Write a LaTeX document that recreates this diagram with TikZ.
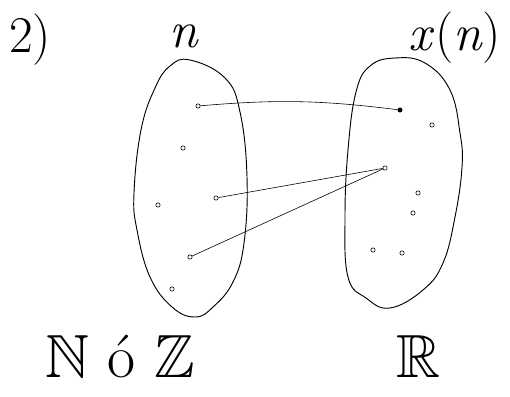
\documentclass[tikz,border=0pt]{standalone}
\usepackage{fontspec}
\usepackage{amssymb}
\usepackage{tikz}

\begin{document}
\begin{tikzpicture}[x=0.03cm, y=-0.03cm, line width=0.8pt, every node/.style={font=\fontsize{44}{48}\selectfont},
  pt/.style={circle, draw, fill=white, inner sep=0pt, minimum size=0.13cm, line width=0.5pt}]
  \useasboundingbox (0,0) rectangle (510,396);
  % labels
  \node (num) at (30,40) {2)};
  \node (lbln) at (184,36) {\itshape n};
  \node (lblx) at (455,38) {\textit{x}(\textit{n})};
  \node[font=\fontsize{52}{56}\selectfont] (dom) at (120,357) {$\mathbb{N}$ ó $\mathbb{Z}$};
  \node[font=\fontsize{52}{56}\selectfont] (cod) at (418,357) {$\mathbb{R}$};
  % sets
  \draw plot[smooth cycle, tension=0.7] coordinates {(190,60) (225,78) (240,112) (247,177) (244,243) (233,282) (213,307) (195,317) (172,307) (150,277) (137,230) (134,193) (141,130) (155,88) (170,66)};
  \draw plot[smooth cycle, tension=0.7] coordinates {(395,58) (425,63) (450,90) (460,133) (462,167) (455,217) (443,263) (423,290) (390,308) (366,298) (348,277) (345,217) (348,150) (356,92) (370,66)};
  % points
  \node[pt] (a1) at (198,106) {};
  \node[pt] (a2) at (183,148) {};
  \node[pt] (a3) at (158,205) {};
  \node[pt] (a4) at (216,198) {};
  \node[pt] (a5) at (190,257) {};
  \node[pt] (a6) at (172,289) {};
  \node[pt, fill=black] (b1) at (400,110) {};
  \node[pt] (b2) at (432,125) {};
  \node[pt] (b3) at (385,168) {};
  \node[pt] (b4) at (418,193) {};
  \node[pt] (b5) at (413,213) {};
  \node[pt] (b6) at (373,250) {};
  \node[pt] (b7) at (402,253) {};
  % mapping
  \draw[line width=0.5pt] (a1) to[bend left=6] (b1);
  \draw[line width=0.5pt] (a4) -- (b3);
  \draw[line width=0.5pt] (a5) -- (b3);
\end{tikzpicture}
\end{document}
